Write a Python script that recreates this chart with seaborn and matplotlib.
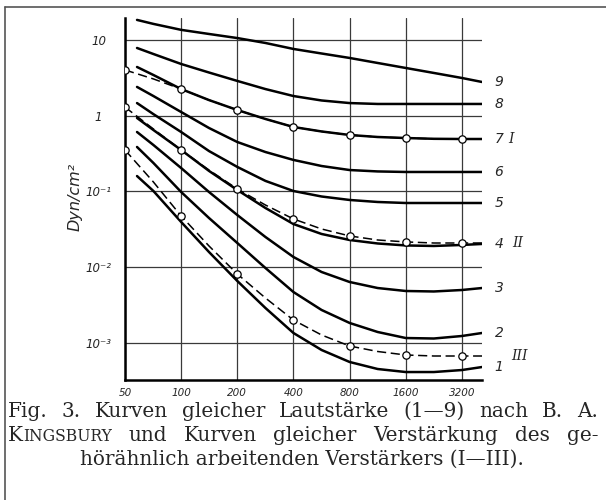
import matplotlib
matplotlib.use("Agg")
import matplotlib.pyplot as plt
import seaborn as sns
from matplotlib.lines import Line2D
from matplotlib.ticker import NullLocator

freq_solid = [58, 71, 100, 141, 200, 283, 400, 566, 800, 1131, 1600, 2263, 3200, 4100]
freq_dashed = [50, 71, 100, 141, 200, 283, 400, 566, 800, 1131, 1600, 2263, 3200, 4100]

# equal loudness curves 1-9 (Kingsbury), pressure in dyn/cm^2
curve_1 = [0.160, 0.1015, 0.0396, 0.0159, 0.00659, 0.00290, 0.001356,
           0.000809, 0.000562, 0.000454, 0.000414, 0.000414, 0.000440, 0.000482]
curve_2 = [0.387, 0.238, 0.0985, 0.0447, 0.0209, 0.00978, 0.00471,
           0.00273, 0.00184, 0.001398, 0.001164, 0.001147, 0.001238, 0.001356]
curve_3 = [0.610, 0.411, 0.204, 0.0985, 0.0489, 0.0251, 0.01366,
           0.00866, 0.00639, 0.00532, 0.00486, 0.00479, 0.00501, 0.00532]
curve_4 = [0.934, 0.648, 0.353, 0.187, 0.1047, 0.0606, 0.0372,
           0.0275, 0.0229, 0.0206, 0.0194, 0.0191, 0.0197, 0.0203]
curve_5 = [1.47, 1.05, 0.610, 0.342, 0.211, 0.138, 0.1015,
           0.0859, 0.0773, 0.0727, 0.0705, 0.0705, 0.0705, 0.0705]
curve_6 = [2.40, 1.82, 1.12, 0.689, 0.450, 0.332, 0.261,
           0.217, 0.192, 0.184, 0.181, 0.181, 0.181, 0.181]
curve_7 = [4.40, 3.45, 2.25, 1.61, 1.19, 0.906, 0.710,
           0.620, 0.557, 0.524, 0.508, 0.496, 0.493, 0.493]
curve_8 = [7.84, 6.53, 4.82, 3.72, 2.88, 2.25, 1.82,
           1.59, 1.47, 1.43, 1.43, 1.43, 1.43, 1.43]
curve_9 = [18.4, 16.3, 13.6, 12.0, 10.6, 9.13, 7.61,
           6.63, 5.79, 4.97, 4.27, 3.67, 3.15, 2.79]
curve_names = ["1", "2", "3", "4", "5", "6", "7", "8", "9"]

# equal amplification curves of the amplifier (I-III)
amp_I = [4.02, 3.06, 2.25, 1.61, 1.19, 0.906, 0.710,
         0.620, 0.557, 0.524, 0.508, 0.496, 0.493, 0.493]
amp_II = [1.30, 0.668, 0.353, 0.192, 0.108, 0.0663, 0.0434,
          0.0320, 0.0259, 0.0229, 0.0216, 0.0209, 0.0209, 0.0209]
amp_III = [0.353, 0.1335, 0.0475, 0.0191, 0.00815, 0.00393, 0.00201,
           0.001276, 0.000913, 0.000773, 0.000695, 0.000674, 0.000674, 0.000674]
amp_names = ["I", "II", "III"]
measured = [0, 2, 4, 6, 8, 10, 12]  # points drawn as circles

x_ticks = [50, 100, 200, 400, 800, 1600, 3200]
x_tick_labels = ["50", "100", "200", "400", "800", "1600", "3200"]
y_ticks = [10, 1, 0.1, 0.01, 0.001]
y_tick_labels = ["10", "1", "10⁻¹", "10⁻²", "10⁻³"]

# caption, one list of words per line; words are (text, size factor) pieces
caption_1 = [[(w, 1.0)] for w in
             "Fig. 3. Kurven gleicher Lautstärke (1—9) nach B. A.".split()]
caption_2 = [[("K", 1.0), ("INGSBURY", 0.78)]] + [[(w, 1.0)] for w in
             "und Kurven gleicher Verstärkung des ge-".split()]
caption_3 = "hörähnlich arbeitenden Verstärkers (I—III)."

W, H = 606, 500
sns.set_style("white")

fig = plt.figure(figsize=(W / 100, H / 100), dpi=100)
ax = fig.add_axes([125 / W, 120 / H, 357 / W, 362 / H])
ax.set_xscale("log")
ax.set_yscale("log")

solid = [curve_1, curve_2, curve_3, curve_4, curve_5,
         curve_6, curve_7, curve_8, curve_9]
for vals in solid:
    sns.lineplot(x=freq_solid, y=vals, ax=ax, color="black", lw=1.8,
                 estimator=None, sort=False, legend=False)

for vals in [amp_I, amp_II, amp_III]:
    sns.lineplot(x=freq_dashed, y=vals, ax=ax, color="black", lw=1.1,
                 linestyle=(0, (6, 3)), estimator=None, sort=False,
                 legend=False)
    sns.scatterplot(x=[freq_dashed[i] for i in measured],
                    y=[vals[i] for i in measured], ax=ax, s=28,
                    facecolor="white", edgecolor="black", linewidth=0.9,
                    zorder=5, legend=False)

# curve numbers at the right end
for vals, name in zip(solid, curve_names):
    ax.annotate(name, xy=(freq_solid[-1], vals[-1]), xytext=(9, 0),
                textcoords="offset points", va="center", ha="left",
                fontsize=10, fontstyle="italic", annotation_clip=False)
roman_off = {"I": 19, "II": 22, "III": 21}
for vals, name in zip([amp_I, amp_II, amp_III], amp_names):
    ax.annotate(name, xy=(freq_dashed[-1], vals[-1]),
                xytext=(roman_off[name], 0), textcoords="offset points",
                va="center", ha="left", fontsize=10, fontstyle="italic",
                family="DejaVu Serif", annotation_clip=False)

ax.set_xlim(50, 4100)
ax.set_ylim(3.25e-4, 19.5)
ax.set_xticks(x_ticks)
ax.set_xticklabels(x_tick_labels, fontstyle="italic", fontsize=7.5)
ax.set_yticks(y_ticks)
ax.set_yticklabels(y_tick_labels, fontstyle="italic", fontsize=8.5,
                   ha="center")
ax.xaxis.set_minor_locator(NullLocator())
ax.yaxis.set_minor_locator(NullLocator())
ax.tick_params(length=0)
ax.tick_params(axis="x", pad=6)
ax.tick_params(axis="y", pad=19)
ax.grid(True, color="#3a3a3a", lw=0.9)

for side in ["top", "right"]:
    ax.spines[side].set_visible(False)
for side in ["left", "bottom"]:
    ax.spines[side].set_color("black")
    ax.spines[side].set_linewidth(1.8)

fig.text(75 / W, 1 - 197 / H, "Dyn/cm²", rotation=90, fontsize=11.5,
         fontstyle="italic", ha="center", va="center")

# frame of the scanned figure
fig.add_artist(Line2D([5 / W, 5 / W], [0, 1 - 7 / H], transform=fig.transFigure,
                      color="#555555", lw=1.2))
fig.add_artist(Line2D([5 / W, 1], [1 - 7 / H, 1 - 7 / H], transform=fig.transFigure,
                      color="#555555", lw=1.2))

# caption
serif = "DejaVu Serif"
cap_size = 14.4
renderer = fig.canvas.get_renderer()


def justified(words, x0, x1, y):
    # measure every word, then spread the gaps so the line runs x0..x1
    widths = []
    for word in words:
        w = 0
        for piece, scale in word:
            t = fig.text(0, 0, piece, fontsize=cap_size * scale, family=serif)
            w += t.get_window_extent(renderer).width
            t.remove()
        widths.append(w)
    gap = (x1 - x0 - sum(widths)) / (len(words) - 1)
    x = x0
    for word, w in zip(words, widths):
        xp = x
        for piece, scale in word:
            t = fig.text(xp / W, 1 - y / H, piece, fontsize=cap_size * scale,
                         family=serif, ha="left", va="baseline")
            xp += t.get_window_extent(renderer).width
        x += w + gap


justified(caption_1, 8, 598, 417)
justified(caption_2, 8, 598, 441)
fig.text(302 / W, 1 - 465 / H, caption_3, fontsize=cap_size, family=serif,
         ha="center", va="baseline")

fig.savefig("out.png", dpi=100)
